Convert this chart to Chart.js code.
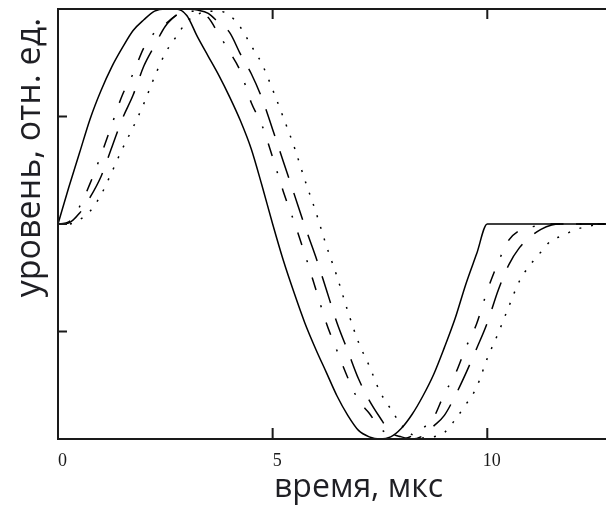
<!DOCTYPE html>
<html>
<head>
<meta charset="utf-8">
<script src="https://cdn.jsdelivr.net/npm/chart.js@4.4.1/dist/chart.umd.min.js"></script>
<style>
    body { margin: 0; background: #fff; overflow: hidden; }
    #wrap { width: 664px; height: 509px; }
</style>
</head>
<body>
<div id="wrap"><canvas id="myChart" width="664" height="509"></canvas></div>
<script>
// time, us
const times = [
    0, 0.25, 0.5, 0.75, 1, 1.25, 1.5, 1.75,
    2, 2.25, 2.5, 2.75, 3, 3.25, 3.5, 3.75,
    4, 4.25, 4.5, 4.75, 5, 5.25, 5.5, 5.75,
    6, 6.25, 6.5, 6.75, 7, 7.25, 7.5, 7.75,
    8, 8.25, 8.5, 8.75, 9, 9.25, 9.5, 9.75,
    10, 10.25, 10.5, 10.75, 11, 11.25, 11.5, 11.75,
    12, 12.25, 12.5, 12.75, 13, 13.25, 13.5, 13.75,
    14
];

// input pulse (solid)
const solidLine = [
    0, 0.17, 0.33, 0.49, 0.62, 0.73, 0.82, 0.90,
    0.95, 0.99, 1, 1, 0.97, 0.87, 0.78, 0.69,
    0.59, 0.48, 0.35, 0.18, 0, -0.17, -0.32, -0.46,
    -0.58, -0.69, -0.80, -0.89, -0.96, -0.99, -1, -0.99,
    -0.95, -0.885, -0.80, -0.70, -0.575, -0.44, -0.28, -0.14,
    0, 0, 0, 0, 0, 0, 0, 0,
    0, 0, 0, 0, 0, 0, 0, 0,
    0
];

// dash-dot
const dashDotLine = [
    0, 0.01, 0.08, 0.19, 0.32, 0.46, 0.60, 0.70,
    0.82, 0.89, 0.93, 0.97, 0.99, 0.99, 0.96, 0.88,
    0.80, 0.71, 0.565, 0.46, 0.31, 0.15, 0.01, -0.14,
    -0.30, -0.46, -0.59, -0.715, -0.82, -0.88, -0.95, -0.98,
    -1, -0.985, -0.95, -0.90, -0.79, -0.70, -0.575, -0.465,
    -0.31, -0.18, -0.075, -0.03, -0.015, -0.005, 0, 0,
    0, 0, 0, 0, 0, 0, 0, 0,
    0
];

// dashed
const dashedLine = [
    0, 0.005, 0.05, 0.125, 0.22, 0.355, 0.49, 0.60,
    0.735, 0.83, 0.92, 0.97, 1, 0.995, 0.98, 0.935,
    0.89, 0.79, 0.70, 0.585, 0.44, 0.29, 0.14, -0.01,
    -0.15, -0.305, -0.46, -0.59, -0.72, -0.82, -0.90, -0.97,
    -0.99, -1, -0.985, -0.94, -0.89, -0.80, -0.695, -0.58,
    -0.46, -0.31, -0.19, -0.11, -0.06, -0.025, -0.005, 0,
    0, 0, 0, 0, 0, 0, 0, 0,
    0
];

// dotted
const dottedLine = [
    0, 0, 0.02, 0.06, 0.135, 0.24, 0.35, 0.45,
    0.56, 0.685, 0.795, 0.87, 0.94, 0.975, 0.99, 0.99,
    0.97, 0.915, 0.83, 0.745, 0.625, 0.495, 0.36, 0.205,
    0.06, -0.10, -0.245, -0.405, -0.55, -0.66, -0.78, -0.86,
    -0.935, -0.98, -0.995, -0.99, -0.97, -0.91, -0.84, -0.76,
    -0.625, -0.51, -0.385, -0.265, -0.19, -0.13, -0.075, -0.055,
    -0.03, -0.015, -0.005, 0, 0, 0, 0, 0,
    0
];

const xTickValues = [0, 5, 10];
const yTickValues = [-0.5, 0, 0.5];

const toPoints = function (values) {
    return times.map(function (t, i) {
        return { x: t, y: values[i] };
    });
};

const makeLine = function (values, dash) {
    return {
        data: toPoints(values),
        borderColor: '#000',
        borderWidth: 1.5,
        borderDash: dash,
        pointRadius: 0,
        fill: false,
        cubicInterpolationMode: 'monotone'
    };
};

// frame with ticks pointing inside
const framePlugin = {
    id: 'frame',
    afterDatasetsDraw: function (chart) {
        const ctx = chart.ctx;
        const area = chart.chartArea;
        const xs = chart.scales.x;
        const ys = chart.scales.y;
        ctx.save();
        ctx.strokeStyle = '#1a1a1a';
        ctx.lineWidth = 2;
        ctx.beginPath();
        ctx.rect(area.left, area.top, area.right - area.left, area.bottom - area.top);
        for (let i = 0; i < xTickValues.length; i++) {
            const px = xs.getPixelForValue(xTickValues[i]);
            ctx.moveTo(px, area.bottom);
            ctx.lineTo(px, area.bottom - 11);
            ctx.moveTo(px, area.top);
            ctx.lineTo(px, area.top + 10);
        }
        for (let i = 0; i < yTickValues.length; i++) {
            const py = ys.getPixelForValue(yTickValues[i]);
            ctx.moveTo(area.left, py);
            ctx.lineTo(area.left + 9, py);
            ctx.moveTo(area.right, py);
            ctx.lineTo(area.right - 9, py);
        }
        ctx.stroke();
        ctx.restore();
    }
};

const ctx = document.getElementById('myChart').getContext('2d');
const myChart = new Chart(ctx, {
    type: 'line',
    data: {
        datasets: [
            makeLine(dottedLine, [2, 10]),
            makeLine(dashedLine, [28, 16]),
            makeLine(dashDotLine, [13, 16, 2, 16]),
            makeLine(solidLine, [])
        ]
    },
    options: {
        responsive: false,
        animation: false,
        devicePixelRatio: 1,
        events: [],
        layout: { padding: { top: 9, right: 5, left: 0, bottom: 0 } },
        plugins: {
            legend: { display: false },
            tooltip: { enabled: false }
        },
        scales: {
            x: {
                type: 'linear',
                min: 0,
                max: 14,
                grid: { display: false, drawTicks: false },
                border: { display: false },
                afterBuildTicks: function (scale) {
                    scale.ticks = xTickValues.map(function (v) { return { value: v }; });
                },
                afterFit: function (scale) { scale.height = 70; },
                ticks: {
                    padding: 13,
                    labelOffset: 4.5,
                    maxRotation: 0,
                    color: '#1a1a1a',
                    font: { family: "'Liberation Serif', serif", size: 18, lineHeight: 1 }
                },
                title: {
                    display: true,
                    text: 'время, мкс',
                    color: '#1f1f24',
                    padding: { top: 0, bottom: 5 },
                    font: { family: "'Open Sans', sans-serif", size: 32, lineHeight: 1 }
                }
            },
            y: {
                type: 'linear',
                min: -1,
                max: 1,
                grid: { display: false, drawTicks: false },
                border: { display: false },
                afterBuildTicks: function (scale) {
                    scale.ticks = yTickValues.map(function (v) { return { value: v }; });
                },
                afterFit: function (scale) { scale.width = 58; },
                ticks: { display: false },
                title: {
                    display: true,
                    text: 'уровень, отн. ед. ',
                    align: 'end',
                    color: '#1f1f24',
                    padding: { top: 13, bottom: 0 },
                    font: { family: "'Open Sans', sans-serif", size: 34, lineHeight: 1 }
                }
            }
        }
    },
    plugins: [framePlugin]
});
</script>
</body>
</html>
